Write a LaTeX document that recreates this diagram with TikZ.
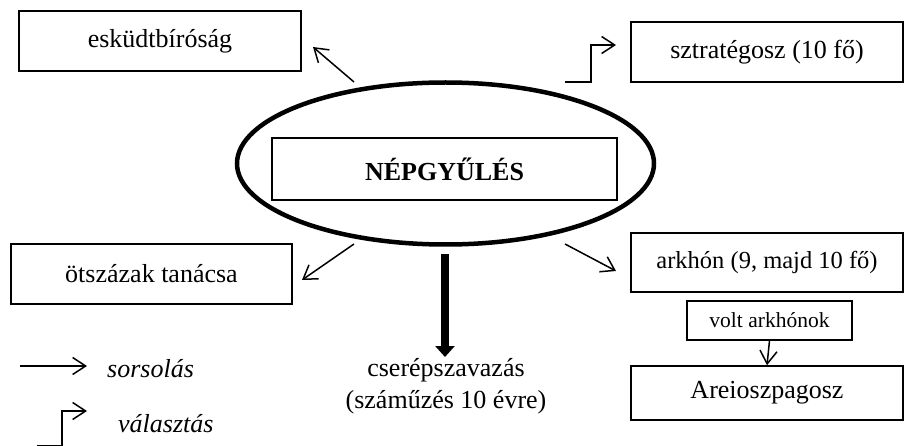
\documentclass[tikz,border=0pt]{standalone}
\usepackage{fontspec}
\setmainfont{Liberation Serif}
\usetikzlibrary{arrows.meta,shapes.geometric}
\begin{document}
\begin{tikzpicture}[x=1pt,y=-1pt,
  box/.style={draw,line width=1.5pt,inner sep=0pt,minimum width=#1},
  big/.style={font=\fontsize{26}{30}\selectfont},
  bigit/.style={font=\fontsize{26}{30}\selectfont\itshape},
  lot/.style={line width=1.5pt,-{Straight Barb[length=13pt,width=17pt,line width=1.5pt]}},
  elect/.style={lot}]
\useasboundingbox (0,0) rectangle (905,446);
% ellipse
\node (ell) [draw,ellipse,line width=4.5pt,minimum width=417pt,minimum height=162pt,inner sep=0pt] at (445.5,163.5) {};
% boxes
\node (nep) [box=345pt,minimum height=62pt,font=\fontsize{26}{30}\selectfont\bfseries] at (444.5,169) {NÉPGYŰLÉS};
\node (esk) [box=282pt,minimum height=60pt,big] at (160,41) {esküdtbíróság};
\node (szt) [box=272pt,minimum height=60pt,big] at (767,52) {sztratégosz (10 fő)};
\node (otsz) [box=281pt,minimum height=60pt,big] at (151.5,274) {ötszázak tanácsa};
\node (ark) [box=272pt,minimum height=59pt,font=\fontsize{24.5}{28}\selectfont] at (767,262.5) {arkhón (9, majd 10 fő)};
\node (volt) [box=165pt,minimum height=39pt,font=\fontsize{21.5}{24}\selectfont] at (769.5,320.5) {volt arkhónok};
\node (are) [box=272pt,minimum height=54pt,big] at (767,393) {Areioszpagosz};
\node (cser) [align=center,font=\fontsize{26}{32}\selectfont,inner sep=0pt] at (446,386) {cserépszavazás\\(száműzés 10 évre)};
% legend texts
\node (lsor) [anchor=base west,inner sep=0pt,bigit] at (107,377) {sorsolás};
\node (lval) [anchor=base west,inner sep=0pt,bigit] at (118,432) {választás};
% coordinates for arrow ends
\coordinate (a1s) at (354,82);  \coordinate (a1e) at (313,47);
\coordinate (a2s) at (354,244); \coordinate (a2e) at (302,280);
\coordinate (a3s) at (565,244); \coordinate (a3e) at (616,271);
\coordinate (a4s) at (565,82);  \coordinate (a4e) at (616,45);
\coordinate (ts) at (445,254);  \coordinate (te) at (445,357);
\coordinate (ls) at (20,366);   \coordinate (le) at (87,366);
\coordinate (vs) at (37,446);   \coordinate (ve) at (87,411);
% arrows
\draw[lot] (a1s) -- (a1e);
\draw[lot] (a2s) -- (a2e);
\draw[lot] (a3s) -- (a3e);
\draw[elect] (a4s) -| (591,45) -- (a4e);
\draw[lot] (volt.south) -- (are.north);
\draw[line width=8pt,-{Triangle[length=11pt,width=19pt]}] (ts) -- (te);
\draw[lot] (ls) -- (le);
\draw[elect] (vs) -| (62,411) -- (ve);
\end{tikzpicture}
\end{document}
